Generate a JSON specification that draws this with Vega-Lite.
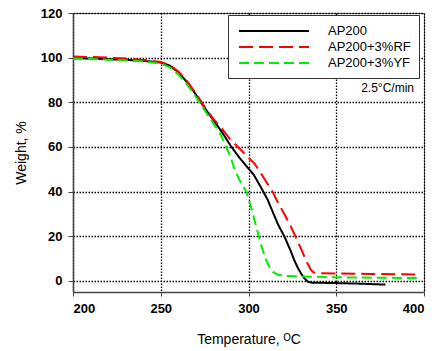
{
  "$schema": "https://vega.github.io/schema/vega-lite/v6.json",
  "width": 351,
  "height": 279,
  "autosize": {"type": "none"},
  "padding": {"left": 73, "top": 13, "right": 14, "bottom": 59},
  "background": "white",
  "config": {
    "font": "Liberation Sans",
    "view": {"stroke": "#555", "strokeWidth": 1},
    "axis": {
      "domainColor": "#444",
      "domainWidth": 1.5,
      "tickColor": "#444",
      "grid": true,
      "gridColor": "black",
      "gridOpacity": 1,
      "gridDash": [1.5, 1.5],
      "gridWidth": 1.3,
      "labelFont": "Liberation Sans",
      "labelFontWeight": "bold",
      "labelFontSize": 13,
      "labelColor": "black",
      "titleFont": "Liberation Sans",
      "titleFontWeight": "normal",
      "titleFontSize": 14,
      "titleColor": "black"
    }
  },
  "datasets": {
    "tga": [
      {"T": 200, "W": 99.8, "s": "AP200"},
      {"T": 210, "W": 99.6, "s": "AP200"},
      {"T": 220, "W": 99.3, "s": "AP200"},
      {"T": 230, "W": 99.0, "s": "AP200"},
      {"T": 240, "W": 98.6, "s": "AP200"},
      {"T": 250, "W": 97.8, "s": "AP200"},
      {"T": 255, "W": 96.5, "s": "AP200"},
      {"T": 260, "W": 93.5, "s": "AP200"},
      {"T": 265, "W": 89.0, "s": "AP200"},
      {"T": 270, "W": 83.5, "s": "AP200"},
      {"T": 275, "W": 77.5, "s": "AP200"},
      {"T": 280, "W": 72.0, "s": "AP200"},
      {"T": 285, "W": 66.5, "s": "AP200"},
      {"T": 290, "W": 60.3, "s": "AP200"},
      {"T": 295, "W": 55.0, "s": "AP200"},
      {"T": 300, "W": 50.3, "s": "AP200"},
      {"T": 303, "W": 47.5, "s": "AP200"},
      {"T": 307, "W": 42.0, "s": "AP200"},
      {"T": 311, "W": 36.2, "s": "AP200"},
      {"T": 314, "W": 30.5, "s": "AP200"},
      {"T": 317, "W": 25.0, "s": "AP200"},
      {"T": 320.5, "W": 19.8, "s": "AP200"},
      {"T": 324, "W": 13.5, "s": "AP200"},
      {"T": 326, "W": 9.4, "s": "AP200"},
      {"T": 328, "W": 6.0, "s": "AP200"},
      {"T": 330, "W": 3.2, "s": "AP200"},
      {"T": 332, "W": 1.0, "s": "AP200"},
      {"T": 334, "W": -0.5, "s": "AP200"},
      {"T": 336, "W": -0.8, "s": "AP200"},
      {"T": 350, "W": -1.0, "s": "AP200"},
      {"T": 365, "W": -1.3, "s": "AP200"},
      {"T": 378, "W": -1.7, "s": "AP200"},
      {"T": 200, "W": 100.5, "s": "AP200+3%RF"},
      {"T": 210, "W": 100.3, "s": "AP200+3%RF"},
      {"T": 220, "W": 100.0, "s": "AP200+3%RF"},
      {"T": 230, "W": 99.6, "s": "AP200+3%RF"},
      {"T": 240, "W": 99.0, "s": "AP200+3%RF"},
      {"T": 250, "W": 98.0, "s": "AP200+3%RF"},
      {"T": 255, "W": 96.8, "s": "AP200+3%RF"},
      {"T": 260, "W": 93.8, "s": "AP200+3%RF"},
      {"T": 265, "W": 89.5, "s": "AP200+3%RF"},
      {"T": 270, "W": 84.0, "s": "AP200+3%RF"},
      {"T": 275, "W": 78.0, "s": "AP200+3%RF"},
      {"T": 280, "W": 72.5, "s": "AP200+3%RF"},
      {"T": 285, "W": 68.0, "s": "AP200+3%RF"},
      {"T": 290, "W": 63.0, "s": "AP200+3%RF"},
      {"T": 294, "W": 60.0, "s": "AP200+3%RF"},
      {"T": 300, "W": 55.2, "s": "AP200+3%RF"},
      {"T": 303.4, "W": 52.5, "s": "AP200+3%RF"},
      {"T": 306, "W": 49.5, "s": "AP200+3%RF"},
      {"T": 310, "W": 44.5, "s": "AP200+3%RF"},
      {"T": 314, "W": 39.5, "s": "AP200+3%RF"},
      {"T": 316, "W": 36.2, "s": "AP200+3%RF"},
      {"T": 320, "W": 30.5, "s": "AP200+3%RF"},
      {"T": 323.3, "W": 25.7, "s": "AP200+3%RF"},
      {"T": 327, "W": 19.5, "s": "AP200+3%RF"},
      {"T": 331, "W": 12.4, "s": "AP200+3%RF"},
      {"T": 333.5, "W": 8.0, "s": "AP200+3%RF"},
      {"T": 335.5, "W": 5.0, "s": "AP200+3%RF"},
      {"T": 337, "W": 3.8, "s": "AP200+3%RF"},
      {"T": 340, "W": 3.4, "s": "AP200+3%RF"},
      {"T": 350, "W": 3.3, "s": "AP200+3%RF"},
      {"T": 370, "W": 3.1, "s": "AP200+3%RF"},
      {"T": 398, "W": 2.8, "s": "AP200+3%RF"},
      {"T": 200, "W": 99.6, "s": "AP200+3%YF"},
      {"T": 210, "W": 99.4, "s": "AP200+3%YF"},
      {"T": 220, "W": 99.1, "s": "AP200+3%YF"},
      {"T": 230, "W": 98.8, "s": "AP200+3%YF"},
      {"T": 240, "W": 98.3, "s": "AP200+3%YF"},
      {"T": 250, "W": 97.3, "s": "AP200+3%YF"},
      {"T": 255, "W": 95.8, "s": "AP200+3%YF"},
      {"T": 260, "W": 92.5, "s": "AP200+3%YF"},
      {"T": 265, "W": 88.0, "s": "AP200+3%YF"},
      {"T": 270, "W": 82.5, "s": "AP200+3%YF"},
      {"T": 275, "W": 76.5, "s": "AP200+3%YF"},
      {"T": 280, "W": 70.5, "s": "AP200+3%YF"},
      {"T": 283.5, "W": 66.5, "s": "AP200+3%YF"},
      {"T": 287.3, "W": 60.0, "s": "AP200+3%YF"},
      {"T": 290, "W": 55.0, "s": "AP200+3%YF"},
      {"T": 292, "W": 50.0, "s": "AP200+3%YF"},
      {"T": 295, "W": 45.0, "s": "AP200+3%YF"},
      {"T": 298.7, "W": 40.0, "s": "AP200+3%YF"},
      {"T": 301.5, "W": 33.0, "s": "AP200+3%YF"},
      {"T": 304.4, "W": 24.3, "s": "AP200+3%YF"},
      {"T": 307, "W": 16.5, "s": "AP200+3%YF"},
      {"T": 310, "W": 9.4, "s": "AP200+3%YF"},
      {"T": 312, "W": 6.0, "s": "AP200+3%YF"},
      {"T": 314, "W": 4.0, "s": "AP200+3%YF"},
      {"T": 316.5, "W": 2.8, "s": "AP200+3%YF"},
      {"T": 320, "W": 2.2, "s": "AP200+3%YF"},
      {"T": 330, "W": 2.0, "s": "AP200+3%YF"},
      {"T": 350, "W": 1.6, "s": "AP200+3%YF"},
      {"T": 375, "W": 1.4, "s": "AP200+3%YF"},
      {"T": 398, "W": 1.2, "s": "AP200+3%YF"}
    ],
    "note": [{"T": 394.3, "W": 86.6, "label": "2.5°C/min"}]
  },
  "layer": [
    {
      "data": {"name": "tga"},
      "mark": {"type": "line", "strokeWidth": 2, "clip": true},
      "encoding": {
        "x": {
          "field": "T", "type": "quantitative",
          "scale": {"domain": [200, 400], "nice": false},
          "axis": {"values": [200, 250, 300, 350, 400], "title": "Temperature, ᴼC", "tickSize": 4, "labelPadding": 6, "titlePadding": 17}
        },
        "y": {
          "field": "W", "type": "quantitative",
          "scale": {"domain": [-5, 120], "nice": false, "zero": false},
          "axis": {"values": [0, 20, 40, 60, 80, 100, 120], "title": "Weight, %", "tickSize": 5, "labelPadding": 6, "titlePadding": 12}
        },
        "color": {
          "field": "s", "type": "nominal",
          "scale": {"domain": ["AP200", "AP200+3%RF", "AP200+3%YF"], "range": ["#000000", "#ff0000", "#00ee00"]},
          "legend": {
            "title": null,
            "orient": "none",
            "legendX": 155,
            "legendY": 2,
            "strokeColor": "#333",
            "fillColor": "white",
            "padding": 8,
            "rowPadding": 1,
            "symbolType": "M-5,0H5",
            "symbolSize": 196,
            "symbolStrokeWidth": 2,
            "symbolOffset": 30,
            "labelOffset": 46,
            "labelFont": "Liberation Sans",
            "labelFontSize": 13,
            "labelColor": "black"
          }
        },
        "strokeDash": {
          "field": "s", "type": "nominal",
          "scale": {"domain": ["AP200", "AP200+3%RF", "AP200+3%YF"], "range": [[1, 0], [14, 6], [10, 5]]},
          "legend": null
        }
      }
    },
    {
      "data": {"name": "note"},
      "mark": {"type": "text", "align": "right", "baseline": "middle", "fontSize": 12, "font": "Liberation Sans", "color": "black"},
      "encoding": {
        "x": {"field": "T", "type": "quantitative"},
        "y": {"field": "W", "type": "quantitative"},
        "text": {"field": "label"}
      }
    }
  ]
}
